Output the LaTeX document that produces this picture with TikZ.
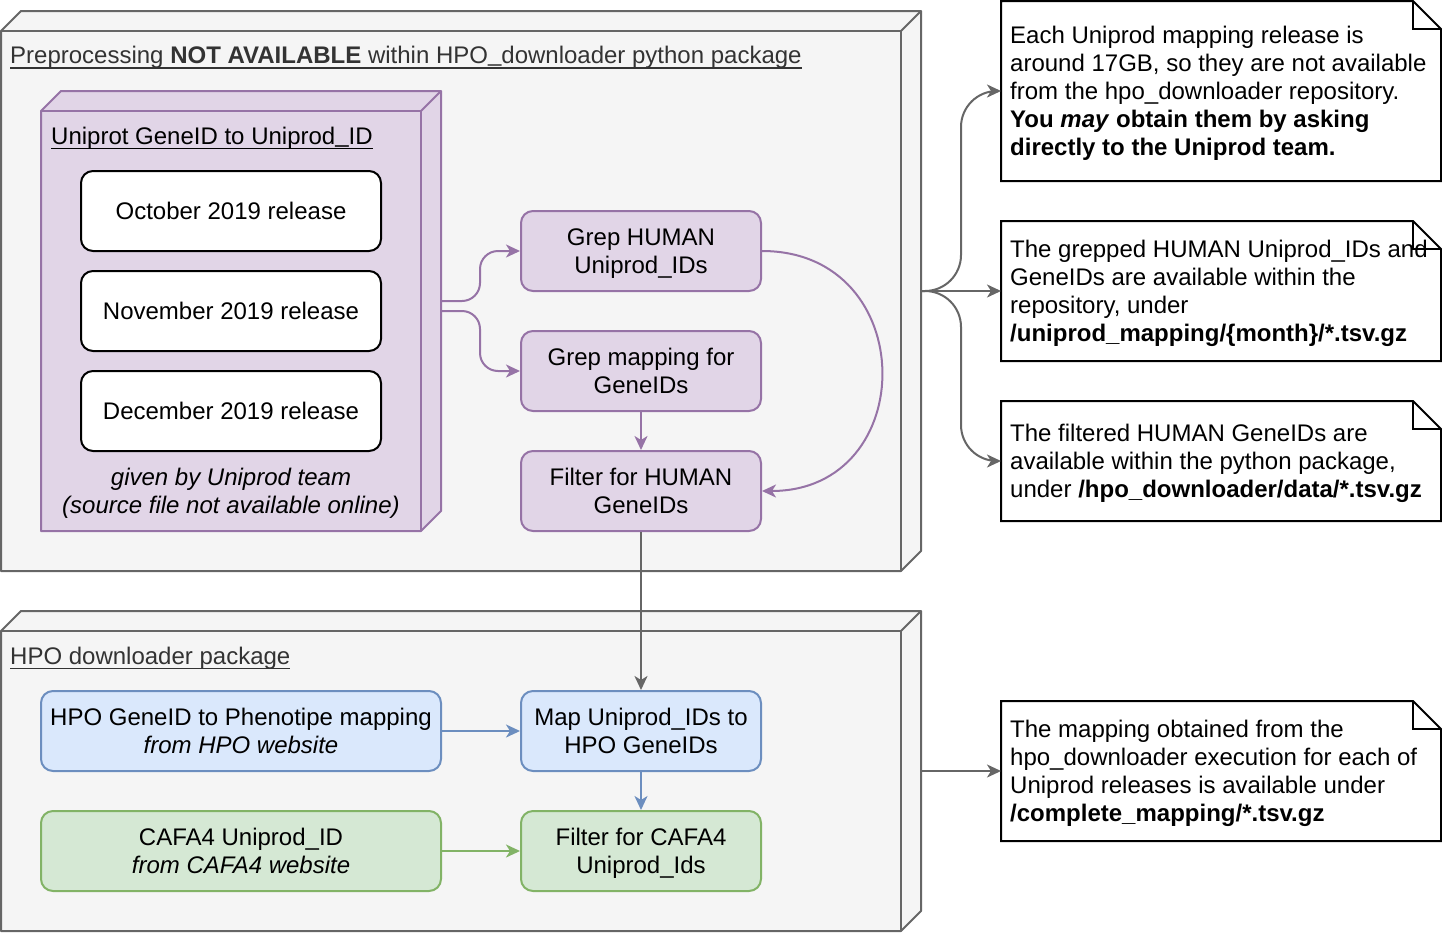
\documentclass[tikz,border=0pt]{standalone}
\usepackage{fontspec}
\setmainfont{Liberation Sans}
\usetikzlibrary{arrows.meta, calc, positioning}

\newcommand{\souligne}[1]{\setbox0\hbox{#1}\rlap{\rule[-5.4pt]{\wd0}{1.5pt}}\box0}
\newcommand{\tiret}{\raisebox{2pt}{\_}}

\definecolor{grisFond}{HTML}{F5F5F5}
\definecolor{grisTrait}{HTML}{666666}
\definecolor{grisTexte}{HTML}{333333}
\definecolor{violetFond}{HTML}{E1D5E7}
\definecolor{violetTrait}{HTML}{9673A6}
\definecolor{bleuFond}{HTML}{DAE8FC}
\definecolor{bleuTrait}{HTML}{6C8EBF}
\definecolor{vertFond}{HTML}{D5E8D4}
\definecolor{vertTrait}{HTML}{82B366}

\tikzset{
    cube/.style={inner sep=0pt, outer sep=0pt},
    boite/.style={rounded corners=12pt, line width=2pt, minimum height=80pt, align=center, inner sep=0pt},
    deuxlignes/.style={text height=49.7pt, text depth=5.1pt},
    release/.style={boite, draw=black, fill=white, minimum width=300pt},
    etape/.style={boite, deuxlignes, draw=violetTrait, fill=violetFond, minimum width=240pt},
    bleue/.style={boite, deuxlignes, draw=bleuTrait, fill=bleuFond},
    verte/.style={boite, deuxlignes, draw=vertTrait, fill=vertFond},
    note/.style={fill=white, minimum width=440pt, inner sep=0pt, outer sep=0pt},
    texteNote/.style={anchor=west, align=left, inner sep=0pt, text depth=5.1pt},
    titre/.style={anchor=base west, inner sep=0pt},
    fleche/.style={-{Stealth[length=14pt,width=13pt,inset=4pt]}, line width=2pt}
}

\begin{document}
\begin{tikzpicture}[x=1pt, y=-1pt, font=\fontsize{24}{28}\selectfont]
    % Parametres
    \def\prof{20pt}   % profondeur des cubes

    \useasboundingbox (0,0) rectangle (1442,932);

    % Cubes (conteneurs)
    \node[cube, minimum width=920pt, minimum height=560pt] (preproc) at (461,291) {};
    \node[cube, minimum width=920pt, minimum height=320pt] (hpo) at (461,771) {};
    \node[cube, minimum width=400pt, minimum height=440pt] (uniprot) at (241,311) {};

    \foreach \n/\fond/\trait in {preproc/grisFond/grisTrait, hpo/grisFond/grisTrait, uniprot/violetFond/violetTrait} {
        \filldraw[fill=\fond, draw=\trait, line width=2pt, line join=round]
            (\n.south west) -- ([yshift=-\prof]\n.north west) -- ([xshift=\prof]\n.north west)
            -- (\n.north east) -- ([yshift=\prof]\n.south east) -- ([xshift=-\prof]\n.south east) -- cycle;
        \draw[draw=\trait, line width=2pt, line join=round]
            ([yshift=-\prof]\n.north west) -- ([xshift=-\prof, yshift=-\prof]\n.north east)
            -- ([xshift=-\prof]\n.south east);
        \draw[draw=\trait, line width=2pt] ([xshift=-\prof, yshift=-\prof]\n.north east) -- (\n.north east);
    }

    % Titres
    \node[titre, text=grisTexte] (titrePre) at (10,63.5) {\souligne{Preprocessing \textbf{NOT AVAILABLE} within HPO\tiret downloader python package}};
    \node[titre] (titreUni) at (51,144) {\souligne{Uniprot GeneID to Uniprod\tiret ID}};
    \node[titre, text=grisTexte] (titreHpo) at (10,664) {\souligne{HPO downloader package}};

    % Releases
    \node[release] (octobre) at (231,211) {October 2019 release};
    \node[release] (novembre) at (231,311) {November 2019 release};
    \node[release] (decembre) at (231,411) {December 2019 release};
    \node[align=center, inner sep=0pt, deuxlignes] (source) at (231,491) {\itshape given by Uniprod team\\\itshape(source file not available online)};

    % Etapes violettes
    \node[etape] (grepH) at (641,251) {Grep HUMAN\\Uniprod\_IDs};
    \node[etape] (grepM) at (641,371) {Grep mapping for\\GeneIDs};
    \node[etape] (filtreH) at (641,491) {Filter for HUMAN\\GeneIDs};

    % Package HPO
    \node[bleue, minimum width=400pt] (hpoMap) at (241,731) {HPO GeneID to Phenotipe mapping\\\textit{from HPO website}};
    \node[bleue, minimum width=240pt] (mapUni) at (641,731) {Map Uniprod\_IDs to\\HPO GeneIDs};
    \node[verte, minimum width=400pt] (cafa) at (241,851) {CAFA4 Uniprod\_ID\\\textit{from CAFA4 website}};
    \node[verte, minimum width=240pt] (filtreC) at (641,851) {Filter for CAFA4\\Uniprod\_Ids};

    % Notes
    \node[note, minimum height=180pt] (noteA) at (1221,91) {};
    \node[note, minimum height=140pt] (noteB) at (1221,291) {};
    \node[note, minimum height=120pt] (noteC) at (1221,461) {};
    \node[note, minimum height=140pt] (noteD) at (1221,771) {};

    \node[texteNote, text height=133.7pt] (texteA) at ([xshift=9pt]noteA.west) {Each Uniprod mapping release is\\around 17GB, so they are not available\\from the hpo\_downloader repository.\\\textbf{You \textit{may} obtain them by asking}\\\textbf{directly to the Uniprod team.}};
    \node[texteNote, text height=105.7pt] (texteB) at ([xshift=9pt]noteB.west) {The grepped HUMAN Uniprod\_IDs and\\GeneIDs are available within the\\repository, under\\\textbf{/uniprod\_mapping/\{month\}/*.tsv.gz}};
    \node[texteNote, text height=77.7pt] (texteC) at ([xshift=9pt]noteC.west) {The filtered HUMAN GeneIDs are\\available within the python package,\\under \textbf{/hpo\_downloader/data/*.tsv.gz}};
    \node[texteNote, text height=105.7pt] (texteD) at ([xshift=9pt]noteD.west) {The mapping obtained from the\\hpo\_downloader execution for each of\\Uniprod releases is available under\\\textbf{/complete\_mapping/*.tsv.gz}};

    \foreach \n in {noteA, noteB, noteC, noteD} {
        \draw[line width=2pt] (\n.south west) -- (\n.north west) -- ([xshift=-28pt]\n.north east)
            -- ([yshift=-28pt]\n.north east) -- (\n.south east) -- cycle;
        \draw[line width=2pt] ([xshift=-28pt]\n.north east) |- ([yshift=-28pt]\n.north east);
    }

    % Connecteurs violets
    \draw[fleche, violetTrait, rounded corners=18pt] ([yshift=10pt]uniprot.east) -| ([xshift=-40pt]grepH.west) -- (grepH.west);
    \draw[fleche, violetTrait, rounded corners=18pt] (uniprot.east) -| ([xshift=-40pt]grepM.west) -- (grepM.west);
    \draw[fleche, violetTrait] (grepM) -- (filtreH);
    \draw[fleche, violetTrait] (grepH.east) .. controls +(159,0) and +(159,0) .. (filtreH.east);

    % Connecteurs du package
    \draw[fleche, grisTrait] (filtreH) -- (mapUni);
    \draw[fleche, bleuTrait] (hpoMap) -- (mapUni);
    \draw[fleche, bleuTrait] (mapUni) -- (filtreC);
    \draw[fleche, vertTrait] (cafa) -- (filtreC);

    % Vers les notes
    \draw[fleche, grisTrait, rounded corners=36pt] (preproc.east) -| ([xshift=-40pt]noteA.west) -- (noteA.west);
    \draw[fleche, grisTrait] (preproc.east) -- (noteB.west);
    \draw[fleche, grisTrait, rounded corners=36pt] (preproc.east) -| ([xshift=-40pt]noteC.west) -- (noteC.west);
    \draw[fleche, grisTrait] (hpo.east) -- (noteD.west);

\end{tikzpicture}
\end{document}
